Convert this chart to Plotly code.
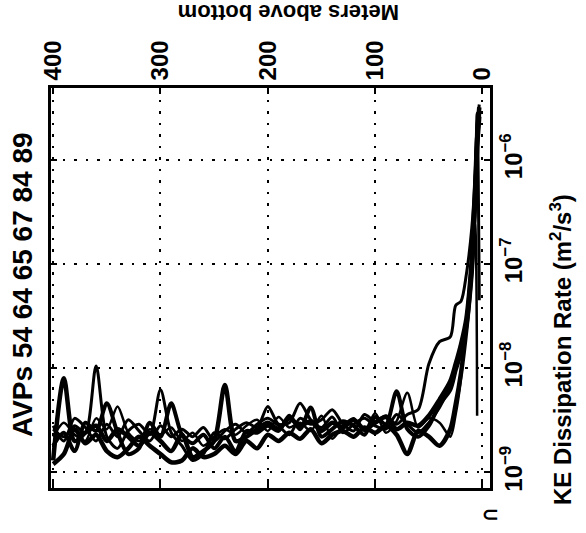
import plotly.graph_objects as go

# heights (m above bottom)
heights = [400, 390, 380, 370, 360, 350, 340, 330, 320, 310, 300, 290, 280, 270, 260,
           250, 240, 230, 220, 210, 200, 190, 180, 170, 160, 150, 140, 130, 120, 110,
           100, 90, 80, 70, 60, 50, 40, 30, 25, 20, 15, 10, 7, 5, 3]

# dissipation in units of 1e-9 m^2/s^3
avp_a = [1.3, 8.0, 2.0, 2.4, 2.8, 2.0, 2.6, 2.2, 1.8, 2.4, 2.0, 1.6, 2.3, 1.4, 1.6,
         2.0, 6.9, 2.0, 2.2, 2.6, 3.0, 2.6, 3.3, 2.8, 3.1, 2.5, 3.0, 2.7, 3.2, 2.6,
         3.0, 3.4, 2.6, 3.0, 2.8, 3.5, 5.0, 7.5, 11, 17, 30, 110, 500, 1600, 3200]
avp_b = [2.6, 2.2, 2.8, 2.4, 10.5, 2.2, 1.7, 2.5, 2.9, 2.3, 6.2, 2.4, 1.8, 1.3, 1.5,
         2.4, 2.1, 2.6, 3.0, 2.7, 4.3, 2.9, 3.0, 4.6, 3.2, 2.7, 3.4, 2.4, 2.9, 3.3,
         2.8, 2.6, 3.6, 2.9, 2.4, 3.0, 4.2, 6.8, 10, 15, 27, 95, 420, 2800, 45]
avp_c = [1.8, 2.4, 1.6, 3.0, 2.5, 4.6, 2.4, 1.5, 1.7, 3.0, 2.2, 4.6, 2.3, 1.9, 2.3,
         1.7, 2.2, 1.6, 2.5, 2.4, 2.8, 2.5, 3.5, 2.6, 4.2, 2.2, 2.6, 3.1, 2.8, 2.3,
         3.4, 2.9, 6.0, 2.6, 2.2, 2.8, 4.5, 6.2, 9.5, 14, 25, 90, 400, 1400, 2800]
avp_d = [1.2, 1.5, 2.6, 1.9, 2.3, 1.6, 1.4, 1.7, 2.2, 1.8, 1.5, 1.25, 1.3, 1.7, 1.4,
         1.5, 1.8, 1.5, 2.0, 1.7, 2.3, 2.0, 2.4, 2.1, 2.6, 1.9, 2.3, 2.5, 2.2, 2.7,
         2.4, 2.8, 2.3, 1.5, 2.5, 2.2, 1.8, 2.6, 4.5, 9, 24, 85, 380, 1300, 2600]
avp_e = [2.2, 3.0, 2.3, 2.0, 3.3, 2.6, 4.3, 2.4, 2.0, 2.6, 2.3, 2.7, 2.0, 2.4, 1.8,
         2.2, 2.6, 2.3, 2.8, 3.2, 2.5, 3.4, 2.7, 3.0, 2.5, 3.5, 2.1, 2.8, 3.3, 2.5,
         3.7, 2.4, 3.1, 5.8, 2.7, 3.3, 3.0, 2.2, 3.6, 8, 30, 120, 250, 3.5, None]
avp_f = [2.8, 2.0, 3.3, 2.7, 2.0, 2.9, 2.2, 3.2, 2.5, 2.0, 2.8, 2.2, 2.6, 2.2, 2.7,
         2.0, 2.5, 2.9, 2.4, 2.9, 3.3, 2.8, 2.3, 3.3, 2.9, 3.2, 4.0, 2.9, 2.5, 3.6,
         3.1, 3.5, 2.9, 3.6, 4.0, 11, 18, 20, 40, 44, 80, 220, 650, 2200, 3400]

profiles = [avp_a, avp_b, avp_c, avp_d, avp_e, avp_f]
widths = [4.5, 3, 4, 4.5, 2.5, 3]

x_ticks = [0, 100, 200, 300, 400]
y_ticks = [1e-9, 1e-8, 1e-7, 1e-6]
y_ticktext = ["10<sup>\u22129</sup>", "10<sup>\u22128</sup>", "10<sup>\u22127</sup>", "10<sup>\u22126</sup>"]

FONT = "Liberation Sans, Arial, sans-serif"

fig = go.Figure()
for vals, w in zip(profiles, widths):
    fig.add_trace(go.Scatter(
        x=heights,
        y=[None if v is None else v * 1e-9 for v in vals],
        mode="lines",
        line=dict(color="black", width=w, shape="spline", smoothing=0.8),
        showlegend=False,
        hoverinfo="skip",
    ))

L, R, T, B = 51, 96, 88, 45
W, H = 586, 533
pw, ph = W - L - R, H - T - B

def px(xp):
    return (xp - L) / pw

def py(yp):
    return (H - B - yp) / ph

fig.update_layout(
    width=W, height=H,
    margin=dict(l=L, r=R, t=T, b=B),
    paper_bgcolor="white", plot_bgcolor="white",
    font=dict(family=FONT, color="black", size=24),
    xaxis=dict(
        range=[402, -7], side="top",
        tickvals=x_ticks, ticktext=["<b>%d</b>" % v for v in x_ticks],
        tickangle=-90, tickfont=dict(size=24),
        showgrid=True, gridcolor="black", griddash="2.5px,9px", gridwidth=2,
        zeroline=False,
        showline=True, linecolor="black", linewidth=2.5, mirror="ticks",
        ticks="inside", ticklen=6, tickcolor="black", tickwidth=1.5,
    ),
    yaxis=dict(
        type="log", range=[-9.15, -5.31], side="right",
        tickvals=y_ticks, ticktext=["<b>%s</b>" % t for t in y_ticktext],
        tickangle=-90, tickfont=dict(size=24),
        showgrid=True, gridcolor="black", griddash="2.5px,9px", gridwidth=2,
        zeroline=False,
        showline=True, linecolor="black", linewidth=2.5, mirror="ticks",
        ticks="inside", ticklen=6, tickcolor="black", tickwidth=1.5,
    ),
    annotations=[
        dict(text="<b>AVPs 54 64 65 67 84 89</b>", xref="paper", yref="paper",
             x=px(22), y=py(285), textangle=-90, showarrow=False,
             font=dict(size=28, family=FONT), xanchor="center", yanchor="middle"),
        dict(text="<b>Meters above bottom</b>", xref="paper", yref="paper",
             x=px(289), y=py(13), textangle=180, showarrow=False,
             font=dict(size=22, family=FONT), xanchor="center", yanchor="middle"),
        dict(text="<b>KE Dissipation Rate (m<sup>2</sup>/s<sup>3</sup>)</b>", xref="paper", yref="paper",
             x=px(561), y=py(350), textangle=-90, showarrow=False,
             font=dict(size=24, family=FONT), xanchor="center", yanchor="middle"),
        dict(text="<b>\u2282</b>", xref="paper", yref="paper",
             x=px(490), y=py(514), showarrow=False,
             font=dict(size=20, family=FONT), xanchor="center", yanchor="middle"),
    ],
)

fig.write_html("out.html")
